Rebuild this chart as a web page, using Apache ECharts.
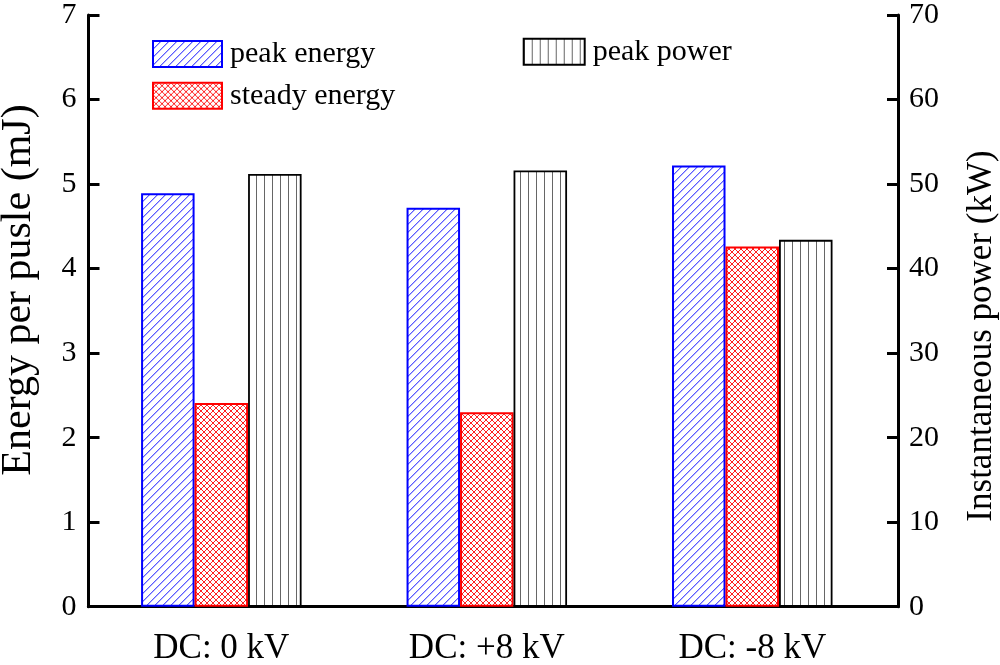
<!DOCTYPE html>
<html>
<head>
<meta charset="utf-8">
<script src="https://cdn.jsdelivr.net/npm/echarts@6/dist/echarts.min.js"></script>
<style>html,body{margin:0;padding:0;background:#fff;}#c{width:1000px;height:665px;}</style>
</head>
<body>
<div id="c"></div>
<script>
const categories = ['DC: 0 kV', 'DC: +8 kV', 'DC: -8 kV'];
const peakEnergy = [4.89, 4.72, 5.22];
const steadyEnergy = [2.41, 2.30, 4.26];
const peakPower = [51.2, 51.6, 43.4];
const leftTicks = [0, 7, 1];
const rightTicks = [0, 70, 10];

const FONT = '"Liberation Serif", "Times New Roman", serif';

function makePattern(w, h, draw) {
  const c = document.createElement('canvas');
  c.width = w; c.height = h;
  const ctx = c.getContext('2d');
  ctx.fillStyle = '#fff';
  ctx.fillRect(0, 0, w, h);
  draw(ctx, w, h);
  return { image: c, repeat: 'repeat' };
}
const bluePat = makePattern(8, 8, (ctx, w, h) => {
  ctx.fillStyle = '#5c5cff';
  for (let i = 0; i < w; i++) ctx.fillRect(i, h - 1 - i, 1, 1);
  ctx.fillStyle = '#b4b4ff';
  for (let i = 0; i < w; i++) ctx.fillRect((i + 1) % w, h - 1 - i, 1, 1);
});
const redPat = makePattern(6, 6, (ctx, w, h) => {
  ctx.fillStyle = '#ff2020';
  for (let i = 0; i < w; i++) { ctx.fillRect(i, h - 1 - i, 1, 1); ctx.fillRect(i, i, 1, 1); }
});
const blackPat = makePattern(8, 8, (ctx, w, h) => {
  ctx.fillStyle = '#666';
  ctx.fillRect(0, 0, 1, h);
});

const chart = echarts.init(document.getElementById('c'), null, { renderer: 'canvas' });

const axisLine = { show: true, lineStyle: { color: '#000', width: 3 } };
const tickStyle = { show: true, inside: true, length: 11, lineStyle: { color: '#000', width: 3 } };

chart.setOption({
  animation: false,
  backgroundColor: '#fff',
  grid: [
    { left: 88.5, right: 102, top: 15, bottom: 58.3, containLabel: false, outerBoundsMode: 'none' },
    { left: 88.6, right: 115, top: 15, bottom: 58.3, containLabel: false, outerBoundsMode: 'none' }
  ],
  legend: [
    {
      data: ['peak energy', 'steady energy'],
      orient: 'vertical', left: 152, top: 39, padding: 0,
      itemWidth: 69, itemHeight: 26, itemGap: 11.7, icon: 'rect',
      textStyle: { fontSize: 30, fontFamily: FONT, color: '#000', lineHeight: 26, padding: [0, 0, 0, 3] }
    },
    {
      data: ['peak power'],
      orient: 'vertical', left: 522.7, top: 36.7, padding: 0,
      itemWidth: 61, itemHeight: 26, icon: 'rect',
      textStyle: { fontSize: 30, fontFamily: FONT, color: '#000', lineHeight: 26, padding: [0, 0, 0, 3] }
    }
  ],
  xAxis: [
    { gridIndex: 0, type: 'category', position: 'bottom', data: categories,
      axisLine: axisLine, axisTick: { show: false }, axisLabel: { show: false }, splitLine: { show: false } },
    { gridIndex: 0, type: 'category', position: 'top', data: categories,
      axisLine: axisLine, axisTick: { show: false }, axisLabel: { show: false }, splitLine: { show: false } },
    { gridIndex: 1, type: 'category', position: 'bottom', data: categories,
      axisLine: { show: false }, axisTick: { show: false }, splitLine: { show: false },
      axisLabel: { fontSize: 35, fontFamily: FONT, color: '#000', margin: 25 } }
  ],
  yAxis: [
    { gridIndex: 0, type: 'value', position: 'left', min: leftTicks[0], max: leftTicks[1], interval: leftTicks[2],
      axisLine: axisLine, axisTick: tickStyle, splitLine: { show: false },
      axisLabel: { fontSize: 30, fontFamily: FONT, color: '#000', margin: 12 } },
    { gridIndex: 0, type: 'value', position: 'right', min: rightTicks[0], max: rightTicks[1], interval: rightTicks[2],
      axisLine: axisLine, axisTick: tickStyle, splitLine: { show: false },
      axisLabel: { fontSize: 30, fontFamily: FONT, color: '#000', margin: 11 } },
    { gridIndex: 1, type: 'value', min: leftTicks[0], max: leftTicks[1], show: false, splitLine: { show: false } },
    { gridIndex: 1, type: 'value', min: rightTicks[0], max: rightTicks[1], show: false, splitLine: { show: false } }
  ],
  series: [
    { name: 'peak energy', type: 'bar', xAxisIndex: 2, yAxisIndex: 2, data: peakEnergy,
      barWidth: 53.5, barGap: '0%',
      itemStyle: { color: bluePat, borderColor: '#0000ff', borderWidth: 2 } },
    { name: 'steady energy', type: 'bar', xAxisIndex: 2, yAxisIndex: 2, data: steadyEnergy,
      barWidth: 53.5, barGap: '0%',
      itemStyle: { color: redPat, borderColor: '#ff0000', borderWidth: 2 } },
    { name: 'peak power', type: 'bar', xAxisIndex: 2, yAxisIndex: 3, data: peakPower,
      barWidth: 53.5, barGap: '0%',
      itemStyle: { color: blackPat, borderColor: '#000', borderWidth: 1.8 } }
  ],
  graphic: [
    { type: 'text', x: 19, y: 290, rotation: Math.PI / 2,
      style: { text: 'Energy per pusle (mJ)', fontSize: 42, fontFamily: FONT, fill: '#000',
               textAlign: 'center', textVerticalAlign: 'middle', verticalAlign: 'middle' } },
    { type: 'text', x: 982, y: 336, rotation: Math.PI / 2,
      style: { text: 'Instantaneous power (kW)', fontSize: 35, fontFamily: FONT, fill: '#000',
               textAlign: 'center', textVerticalAlign: 'middle', verticalAlign: 'middle' } }
  ]
});
</script>
</body>
</html>
